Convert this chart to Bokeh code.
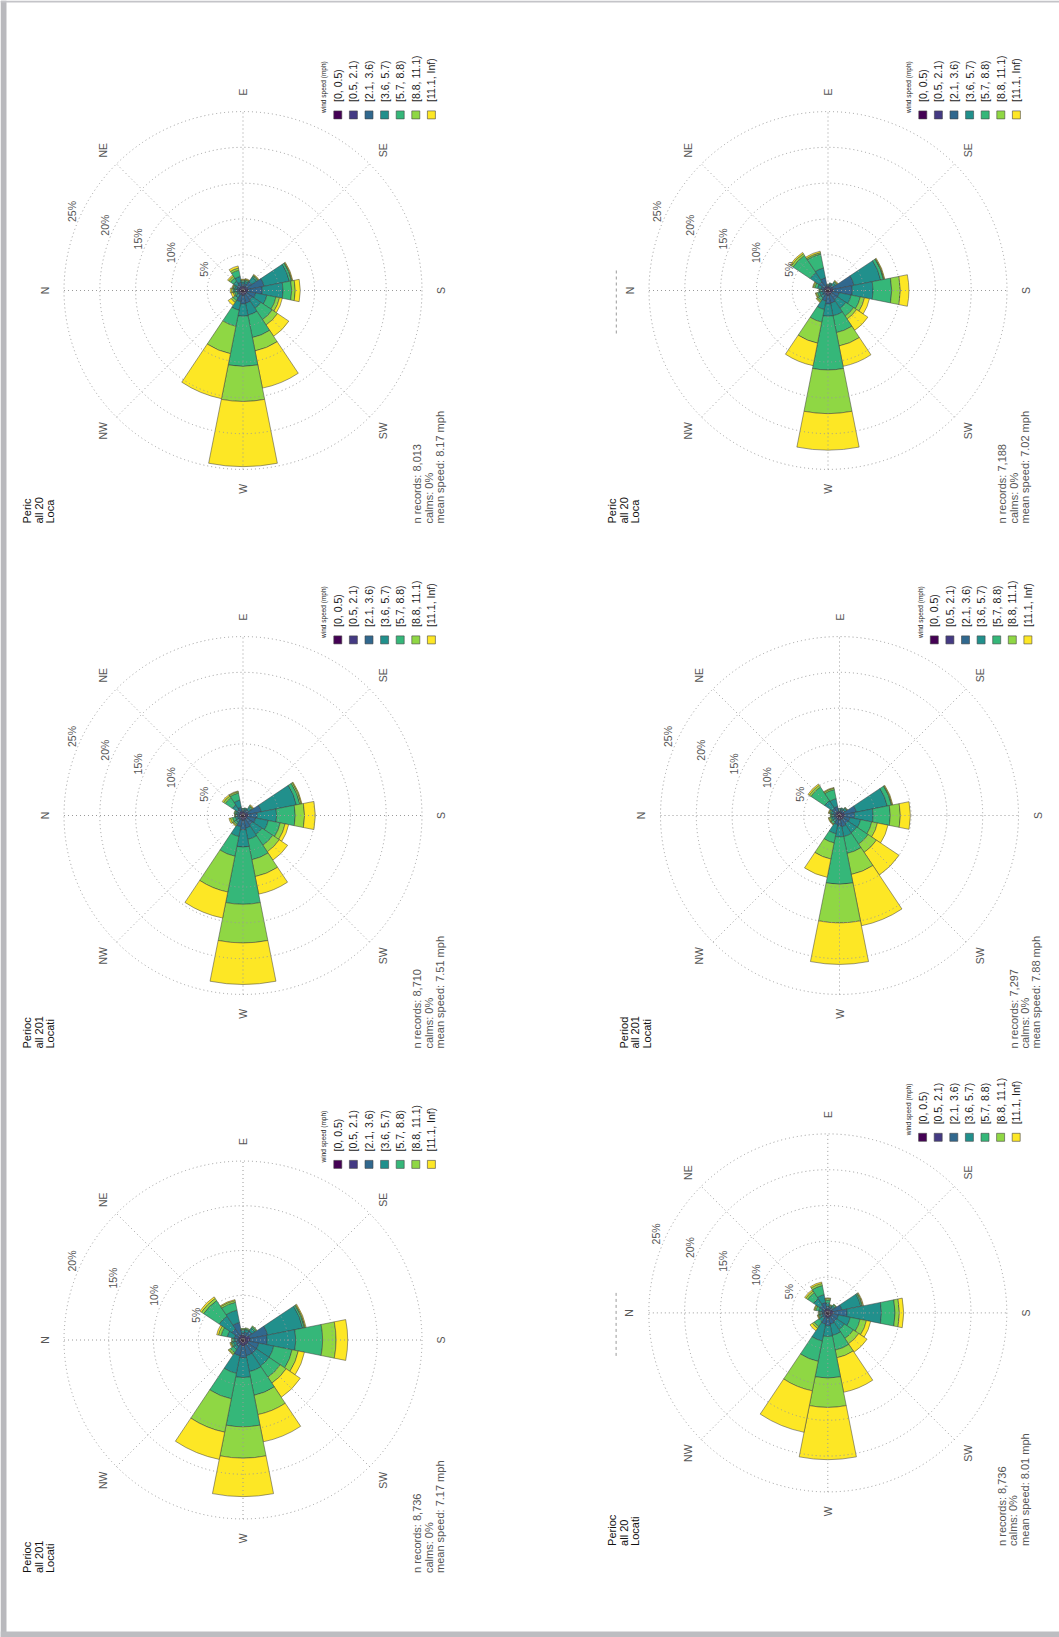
import math
from bokeh.plotting import figure
from bokeh.models import Range1d, ColumnDataSource
from bokeh.embed import file_html
from bokeh.resources import INLINE
from bokeh.core.properties import value

# ---------------- data ----------------
directions = ["N", "NNE", "NE", "ENE", "E", "ESE", "SE", "SSE",
              "S", "SSW", "SW", "WSW", "W", "WNW", "NW", "NNW"]
bearings = [0, 22.5, 45, 67.5, 90, 112.5, 135, 157.5,
            180, 202.5, 225, 247.5, 270, 292.5, 315, 337.5]
speed_bins = ["[0, 0.5)", "[0.5, 2.1)", "[2.1, 3.6)", "[3.6, 5.7)",
              "[5.7, 8.8)", "[8.8, 11.1)", "[11.1, Inf)"]
bin_colors = ["#440154", "#443A83", "#31688E", "#21908C",
              "#35B779", "#8FD744", "#FDE725"]

# cumulative frequency (%) at the outer edge of each speed bin, one row per direction
rose_cum_1 = [
    [0.3, 0.6, 0.9, 1.2, 1.4, 1.6, 1.8], [0.3, 0.6, 0.9, 1.2, 1.4, 1.5, 1.6],
    [0.3, 0.6, 1.0, 1.6, 2.1, 2.4, 2.6], [0.3, 0.6, 1.2, 2.0, 2.9, 3.2, 3.5],
    [0.3, 0.6, 0.9, 1.2, 1.4, 1.5, 1.6], [0.3, 0.6, 1.0, 1.3, 1.5, 1.6, 1.7],
    [0.3, 0.6, 1.5, 2.3, 2.5, 2.6, 2.7], [0.3, 0.7, 3.0, 6.6, 6.9, 7.0, 7.1],
    [0.3, 0.7, 2.7, 5.6, 6.8, 7.3, 8.0], [0.3, 0.6, 1.8, 3.4, 4.7, 5.2, 5.6],
    [0.3, 0.6, 1.6, 3.0, 4.9, 5.8, 7.7], [0.3, 0.6, 1.8, 3.5, 6.7, 8.6, 13.9],
    [0.3, 0.7, 1.9, 3.6, 10.6, 15.5, 24.6], [0.3, 0.6, 1.6, 2.8, 5.1, 9.0, 15.4],
    [0.3, 0.5, 0.8, 1.3, 1.7, 2.0, 2.5], [0.3, 0.5, 0.7, 0.9, 1.2, 1.4, 1.7]]
rose_cum_2 = [
    [0.3, 0.5, 0.8, 1.0, 1.2, 1.3, 1.3], [0.3, 0.6, 1.0, 1.5, 1.9, 2.1, 2.2],
    [0.3, 0.6, 1.5, 3.0, 5.9, 6.2, 6.4], [0.3, 0.6, 1.8, 3.2, 5.2, 5.4, 5.6],
    [0.3, 0.5, 0.7, 0.8, 0.9, 0.9, 0.9], [0.3, 0.5, 0.8, 1.0, 1.1, 1.1, 1.1],
    [0.3, 0.5, 0.9, 1.3, 1.5, 1.6, 1.7], [0.3, 0.7, 3.7, 7.5, 7.9, 8.0, 8.1],
    [0.3, 0.7, 3.4, 6.3, 8.9, 10.1, 11.3], [0.3, 0.6, 1.6, 3.3, 4.6, 5.2, 5.9],
    [0.3, 0.6, 1.6, 3.0, 4.3, 4.8, 6.7], [0.3, 0.6, 1.8, 3.6, 6.0, 7.9, 10.8],
    [0.3, 0.7, 1.9, 3.6, 11.1, 17.2, 22.3], [0.3, 0.6, 1.5, 2.7, 4.5, 7.5, 10.7],
    [0.3, 0.5, 0.9, 1.3, 1.7, 1.9, 2.0], [0.3, 0.5, 0.8, 1.2, 1.5, 1.7, 1.8]]
rose_cum_3 = [
    [0.3, 0.5, 0.8, 1.0, 1.1, 1.2, 1.2], [0.3, 0.5, 0.8, 1.0, 1.2, 1.3, 1.3],
    [0.3, 0.6, 1.0, 1.8, 3.0, 3.3, 3.5], [0.3, 0.6, 1.2, 2.2, 3.2, 3.4, 3.5],
    [0.3, 0.5, 0.7, 0.9, 1.0, 1.0, 1.0], [0.3, 0.5, 0.8, 1.0, 1.1, 1.1, 1.1],
    [0.3, 0.5, 1.0, 1.4, 1.6, 1.7, 1.8], [0.3, 0.7, 2.6, 7.6, 8.1, 8.3, 8.4],
    [0.3, 0.7, 2.0, 4.7, 7.3, 8.6, 10.1], [0.3, 0.6, 1.8, 3.6, 5.3, 6.0, 6.5],
    [0.3, 0.6, 1.6, 3.2, 5.0, 6.1, 7.5], [0.3, 0.6, 1.8, 3.4, 6.3, 8.7, 11.2],
    [0.3, 0.7, 2.0, 4.4, 12.4, 17.8, 23.6], [0.3, 0.6, 1.6, 3.0, 5.8, 10.9, 14.6],
    [0.3, 0.5, 0.8, 1.2, 1.5, 1.7, 1.8], [0.3, 0.5, 0.8, 1.1, 1.5, 1.8, 2.0]]
rose_cum_4 = [
    [0.3, 0.5, 0.8, 1.0, 1.2, 1.3, 1.3], [0.3, 0.5, 0.9, 1.2, 1.4, 1.5, 1.6],
    [0.3, 0.6, 1.2, 2.5, 4.8, 5.1, 5.3], [0.3, 0.6, 1.3, 2.4, 3.7, 3.9, 4.0],
    [0.3, 0.5, 0.7, 0.9, 1.0, 1.0, 1.0], [0.3, 0.5, 0.8, 1.0, 1.1, 1.1, 1.1],
    [0.3, 0.5, 0.9, 1.2, 1.3, 1.4, 1.4], [0.3, 0.7, 2.4, 6.8, 7.4, 7.5, 7.6],
    [0.3, 0.7, 2.1, 4.7, 7.1, 8.5, 9.9], [0.3, 0.6, 1.5, 3.0, 4.6, 5.4, 6.9],
    [0.3, 0.6, 1.4, 2.9, 4.8, 6.2, 10.0], [0.3, 0.6, 1.6, 3.0, 5.4, 8.4, 15.7],
    [0.3, 0.6, 1.5, 3.0, 9.6, 15.0, 20.8], [0.3, 0.6, 1.3, 2.6, 3.9, 6.2, 8.8],
    [0.3, 0.5, 0.8, 1.1, 1.4, 1.5, 1.6], [0.3, 0.5, 0.8, 1.1, 1.3, 1.5, 1.6]]
rose_cum_5 = [
    [0.3, 0.5, 0.8, 1.0, 1.2, 1.3, 1.3], [0.3, 0.5, 1.0, 1.8, 2.5, 2.8, 3.0],
    [0.3, 0.6, 1.5, 3.2, 5.3, 5.6, 5.8], [0.3, 0.6, 2.0, 3.4, 4.3, 4.5, 4.6],
    [0.3, 0.5, 0.8, 1.1, 1.2, 1.3, 1.3], [0.3, 0.5, 0.9, 1.2, 1.3, 1.4, 1.4],
    [0.3, 0.6, 1.2, 1.6, 1.8, 1.9, 1.9], [0.3, 0.8, 2.8, 6.8, 7.0, 7.1, 7.2],
    [0.3, 0.8, 2.7, 5.9, 8.9, 10.4, 11.7], [0.3, 0.6, 1.8, 3.5, 5.6, 6.3, 7.0],
    [0.3, 0.6, 1.8, 3.5, 5.0, 5.8, 7.7], [0.3, 0.6, 1.8, 3.6, 6.3, 8.5, 11.6],
    [0.3, 0.7, 2.0, 4.2, 9.7, 13.2, 17.5], [0.3, 0.6, 1.8, 3.8, 6.7, 10.5, 13.6],
    [0.3, 0.5, 0.9, 1.3, 1.7, 1.9, 2.0], [0.3, 0.5, 0.8, 1.1, 1.3, 1.4, 1.5]]
rose_cum_6 = [
    [0.3, 0.5, 0.8, 1.0, 1.2, 1.3, 1.3], [0.3, 0.5, 0.9, 1.3, 1.7, 1.9, 2.0],
    [0.3, 0.6, 1.3, 2.4, 3.4, 3.7, 3.9], [0.3, 0.6, 1.5, 2.6, 3.9, 4.2, 4.4],
    [0.3, 0.5, 0.9, 1.4, 1.8, 2.0, 2.1], [0.3, 0.5, 0.8, 1.0, 1.1, 1.2, 1.2],
    [0.3, 0.5, 0.9, 1.2, 1.4, 1.5, 1.5], [0.3, 0.7, 2.0, 4.7, 4.9, 5.0, 5.1],
    [0.3, 0.8, 2.7, 7.5, 9.4, 10.0, 10.6], [0.3, 0.6, 1.5, 3.2, 4.6, 5.5, 6.1],
    [0.3, 0.6, 1.5, 2.8, 4.3, 5.2, 6.6], [0.3, 0.6, 1.6, 3.2, 5.3, 6.4, 11.3],
    [0.3, 0.7, 1.8, 3.3, 9.1, 13.2, 20.5], [0.3, 0.6, 1.6, 4.0, 6.9, 11.1, 17.0],
    [0.3, 0.5, 0.9, 1.5, 2.3, 2.6, 3.0], [0.3, 0.5, 0.8, 1.1, 1.3, 1.4, 1.5]]

roses = [rose_cum_1, rose_cum_2, rose_cum_3, rose_cum_4, rose_cum_5, rose_cum_6]
grid_max = [25, 25, 25, 25, 20, 25]
n_records = ["8,013", "7,188", "8,710", "7,297", "8,736", "8,736"]
calms = ["0%", "0%", "0%", "0%", "0%", "0%"]
mean_speed = ["8.17", "7.02", "7.51", "7.88", "7.17", "8.01"]
title_lines = [["Peric", "all 20", "Loca"], ["Peric", "all 20", "Loca"],
               ["Perioc", "all 201", "Locati"], ["Period", "all 201", "Locati"],
               ["Perioc", "all 201", "Locati"], ["Perioc", "all 20", "Locati"]]
compass = ["N", "NE", "E", "SE", "S", "SW", "W", "NW"]

# ---------------- layout (page pixels) ----------------
PAGE_W, PAGE_H = 1059, 1637
centers = [(242.5, 290.0), (827.5, 290.0), (242.5, 815.0),
           (839.0, 815.0), (242.5, 1339.5), (827.3, 1312.4)]
R_OUT = 179.0       # radius of outermost grid ring
R_LAB = 198.4       # radius of compass labels
has_dash = [False, True, False, False, False, True]

p = figure(width=PAGE_W, height=PAGE_H, x_range=Range1d(0, PAGE_W), y_range=Range1d(0, PAGE_H),
           output_backend="svg", toolbar_location=None, min_border=0)
p.axis.visible = False
p.grid.visible = False
p.outline_line_color = None
p.background_fill_color = "white"

FONT = value("Liberation Sans")
GREY = "#555555"
HALF = math.radians(11.25)


def Y(y_img):
    return PAGE_H - y_img


# page shadow strips
p.quad(left=[0, 0, 0], right=[6, PAGE_W, PAGE_W], bottom=[0, Y(2), 0], top=[PAGE_H, PAGE_H, Y(1631)],
       fill_color=["#b9b9bd", "#c4c4c8", "#bdbdc1"], line_color=None)

for k, rose in enumerate(roses):
    cx, cyi = centers[k]
    cy = Y(cyi)
    scale = R_OUT / grid_max[k]
    # wedges
    xs, ys, rin, rout, sa, ea, col = [], [], [], [], [], [], []
    for d, b in enumerate(bearings):
        phi = math.radians(180 - b)
        prev = 0.0
        for j, c in enumerate(rose[d]):
            if c > prev:
                xs.append(cx); ys.append(cy)
                rin.append(prev * scale); rout.append(c * scale)
                sa.append(phi - HALF); ea.append(phi + HALF)
                col.append(bin_colors[j])
            prev = c
    src = ColumnDataSource(dict(x=xs, y=ys, ri=rin, ro=rout, sa=sa, ea=ea, c=col))
    p.annular_wedge(x="x", y="y", inner_radius="ri", outer_radius="ro",
                    start_angle="sa", end_angle="ea", fill_color="c",
                    line_color="#3a3a3a", line_width=0.5, source=src)

    # grid rings and axes (drawn on top)
    rings = list(range(5, grid_max[k] + 1, 5))
    p.circle(x=[cx] * len(rings), y=[cy] * len(rings), radius=[r * scale for r in rings],
             fill_color=None, line_color="#9a9a9a", line_width=1, line_dash="1 3")
    x0s, y0s, x1s, y1s = [], [], [], []
    for a in [0, 45, 90, 135]:
        t = math.radians(a)
        x0s.append(cx - R_OUT * math.cos(t)); y0s.append(cy - R_OUT * math.sin(t))
        x1s.append(cx + R_OUT * math.cos(t)); y1s.append(cy + R_OUT * math.sin(t))
    p.segment(x0=x0s, y0=y0s, x1=x1s, y1=y1s, line_color="#9a9a9a",
              line_width=1, line_dash="1 3")

    # ring labels (at bearing 22.5)
    phl = math.radians(180 - 22.5)
    p.text(x=[cx + r * scale * math.cos(phl) for r in rings],
           y=[cy + r * scale * math.sin(phl) for r in rings],
           text=["%d%%" % r for r in rings], angle=math.pi / 2,
           text_align="left", text_baseline="bottom", text_font=FONT,
           text_font_size="10.5px", text_color=GREY)

    # compass labels
    lb = [0, 45, 90, 135, 180, 225, 270, 315]
    p.text(x=[cx + R_LAB * math.cos(math.radians(180 - b)) for b in lb],
           y=[cy + R_LAB * math.sin(math.radians(180 - b)) for b in lb],
           text=compass, angle=math.pi / 2, text_align="center", text_baseline="middle",
           text_font=FONT, text_font_size="10.5px", text_color=GREY)

    # legend
    sq_y = Y(cyi - 175.6)
    sq_x = [cx + 94.8 + 15.6 * i for i in range(7)]
    p.rect(x=sq_x, y=[sq_y] * 7, width=8, height=8, fill_color=bin_colors,
           line_color="#444444", line_width=0.6)
    p.text(x=sq_x, y=[sq_y + 13.0] * 7, text=speed_bins, angle=math.pi / 2,
           text_align="left", text_baseline="middle", text_font=FONT,
           text_font_size="10.5px", text_color="#1a1a1a")
    p.text(x=[cx + 80.8], y=[sq_y + 2.0], text=["wind speed (mph)"], angle=math.pi / 2,
           text_align="left", text_baseline="middle", text_font=FONT,
           text_font_size="6.5px", text_color="#1a1a1a")

    # title lines (clipped in the original) and statistics
    ty = Y(cyi + 233.0)
    p.text(x=[cx - 215.8, cx - 204.3, cx - 193.0], y=[ty] * 3, text=title_lines[k],
           angle=math.pi / 2, text_align="left", text_baseline="middle",
           text_font=FONT, text_font_size="11px", text_color="#111111")
    stats = ["n records: " + n_records[k], "calms: " + calms[k],
             "mean speed: " + mean_speed[k] + " mph"]
    p.text(x=[cx + 174.2, cx + 185.6, cx + 196.8], y=[ty] * 3, text=stats,
           angle=math.pi / 2, text_align="left", text_baseline="middle",
           text_font=FONT, text_font_size="11px", text_color=GREY)

    if has_dash[k]:
        p.segment(x0=[cx - 211.7], y0=[Y(cyi - 20)], x1=[cx - 211.7], y1=[Y(cyi + 45)],
                  line_color="#9a9a9a", line_width=1, line_dash="3 3")

open("out.html", "w").write(file_html(p, INLINE))
